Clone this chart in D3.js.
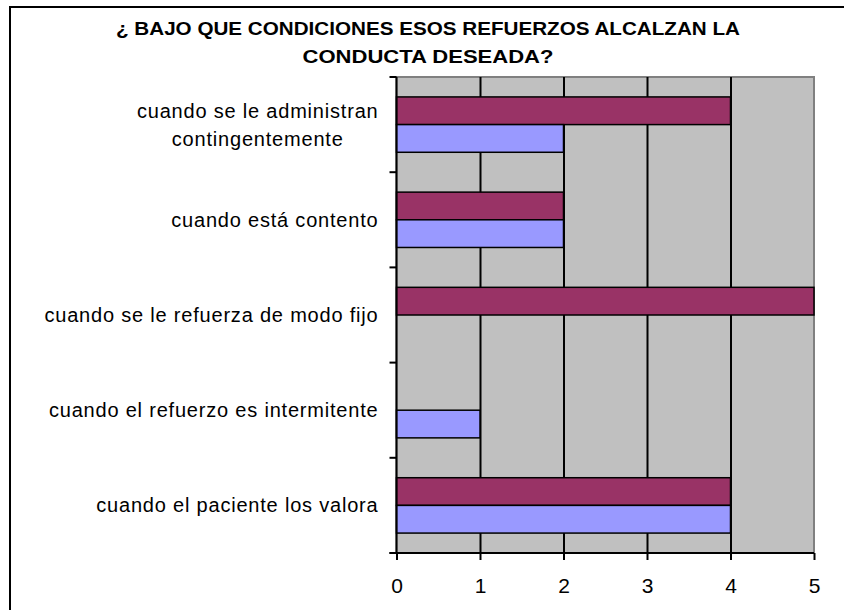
<!DOCTYPE html>
<html>
<head>
<meta charset="utf-8">
<script src="https://cdn.jsdelivr.net/npm/d3@7"></script>
<style>
  body { margin: 0; background: #fff; }
  text { font-family: Arial, "Liberation Sans", sans-serif; fill: #000; }
</style>
</head>
<body>
<svg width="844" height="610"></svg>
<script>
// categories top to bottom, and the two series (no legend in the original)
var categories = [
  "cuando se le administran|contingentemente",
  "cuando está contento",
  "cuando se le refuerza de modo fijo",
  "cuando el refuerzo es intermitente",
  "cuando el paciente los valora"
];
var serie1 = [4, 2, 5, 0, 4];   // maroon
var serie2 = [2, 2, 0, 1, 4];   // lavender
var xTicks = [0, 1, 2, 3, 4, 5];
var titleLines = ["¿ BAJO QUE CONDICIONES ESOS REFUERZOS ALCALZAN LA", "CONDUCTA DESEADA?"];

var svg = d3.select("svg"),
    margin = {top: 77, right: 30, bottom: 57, left: 396.5},
    width = 814 - margin.left,
    height = 553 - margin.top,
    g = svg.append("g").attr("transform", "translate(" + margin.left + "," + margin.top + ")");

// outer chart border (runs off the right and bottom of the picture)
svg.append("rect")
    .attr("x", 10).attr("y", 7)
    .attr("width", 860).attr("height", 640)
    .attr("fill", "none").attr("stroke", "#000").attr("stroke-width", 2);

// title
svg.append("g").selectAll("text")
    .data(titleLines)
    .enter().append("text")
    .attr("x", 428)
    .attr("y", function(d, i) { return 35 + i * 28; })
    .attr("text-anchor", "middle")
    .style("font-size", "19px")
    .style("font-weight", "bold")
    .attr("textLength", function(d, i) { return i == 0 ? 624 : 251; })
    .attr("lengthAdjust", "spacingAndGlyphs")
    .text(function(d) { return d; });

var x = d3.scaleLinear().domain([0, 5]).range([0, width]);
var y0 = d3.scaleBand().domain(categories).range([0, height]);
var y1 = d3.scaleBand().domain(["serie1", "serie2"]).range([0, y0.bandwidth()]).paddingOuter(0.72);
var color = d3.scaleOrdinal().domain(["serie1", "serie2"]).range(["#993366", "#9999FF"]);

// plot area
g.append("rect")
    .attr("width", width).attr("height", height)
    .attr("fill", "#C0C0C0")
    .attr("stroke", "#808080").attr("stroke-width", 2);

// vertical gridlines
g.append("g")
    .attr("class", "grid")
    .call(d3.axisBottom(x).tickValues([1, 2, 3, 4]).tickSize(height).tickFormat(""))
    .call(function(s) {
        s.select(".domain").remove();
        s.selectAll("line").attr("stroke", "#000").attr("stroke-width", 2);
    });

// bars
var rows = categories.map(function(c, i) {
    return {cat: c, values: [{key: "serie1", v: serie1[i]}, {key: "serie2", v: serie2[i]}]};
});

g.selectAll(".row")
    .data(rows)
    .enter().append("g")
    .attr("class", "row")
    .attr("transform", function(d) { return "translate(0," + y0(d.cat) + ")"; })
    .selectAll("rect")
    .data(function(d) { return d.values.filter(function(v) { return v.v > 0; }); })
    .enter().append("rect")
    .attr("x", x(0))
    .attr("y", function(d) { return y1(d.key); })
    .attr("width", function(d) { return x(d.v) - x(0); })
    .attr("height", y1.bandwidth())
    .attr("fill", function(d) { return color(d.key); })
    .attr("stroke", "#000").attr("stroke-width", 1.5);

// left axis: ticks at the category boundaries
var bounds = d3.range(categories.length + 1).map(function(i) { return i * y0.step(); });
g.append("g")
    .call(function(s) {
        s.append("line").attr("x1", 0).attr("x2", 0).attr("y1", 0).attr("y2", height)
            .attr("stroke", "#000").attr("stroke-width", 2);
        s.selectAll(".tk").data(bounds).enter().append("line")
            .attr("class", "tk")
            .attr("x1", -7).attr("x2", 0)
            .attr("y1", function(d) { return d; }).attr("y2", function(d) { return d; })
            .attr("stroke", "#000").attr("stroke-width", 2);
    });

// category labels (two-line label is centred as a block, right aligned)
g.append("g").selectAll("text")
    .data(categories)
    .enter().append("text")
    .attr("y", function(d) { return y0(d) + y0.bandwidth() / 2; })
    .style("font-size", "20px")
    .style("letter-spacing", "0.8px")
    .each(function(d) {
        var parts = d.split("|"), t = d3.select(this);
        t.attr("text-anchor", "end").attr("x", -18);
        if (parts.length == 1) {
            t.attr("dy", "0.35em").text(d);
            return;
        }
        var spans = parts.map(function(p, i) {
            return t.append("tspan")
                .attr("dy", i == 0 ? (0.35 - (parts.length - 1) * 0.7) + "em" : "1.4em")
                .text(p);
        });
        var widest = d3.max(spans, function(s) { return s.node().getComputedTextLength(); });
        t.attr("text-anchor", "middle");
        spans.forEach(function(s) { s.attr("x", -18 - widest / 2); });
    });

// bottom axis
g.append("g")
    .attr("transform", "translate(0," + height + ")")
    .call(d3.axisBottom(x).tickValues(xTicks).tickSize(7).tickPadding(18).tickFormat(d3.format("d")))
    .call(function(s) {
        s.select(".domain").remove();
        s.insert("line", ":first-child").attr("x1", -7).attr("x2", width)
            .attr("stroke", "#000").attr("stroke-width", 2);
        s.selectAll(".tick line").attr("stroke", "#000").attr("stroke-width", 2);
        s.selectAll(".tick text").style("font-size", "21px").attr("font-family", null);
    });
</script>
</body>
</html>
